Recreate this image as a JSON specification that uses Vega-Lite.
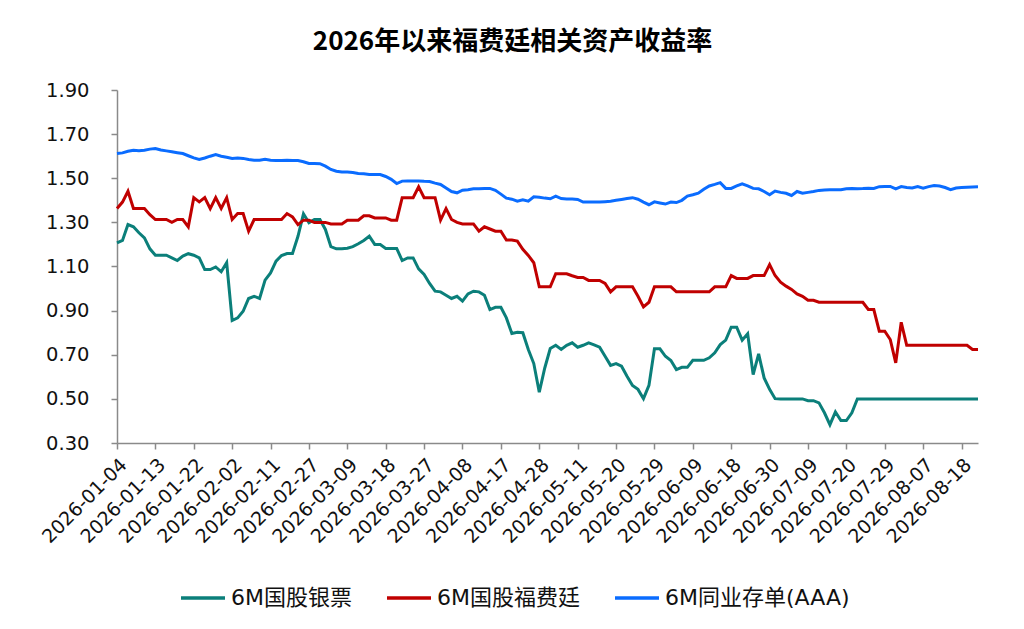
{
  "$schema": "https://vega.github.io/schema/vega-lite/v6.json",
  "autosize": {"type": "none"},
  "width": 861,
  "height": 353,
  "padding": {"left": 117, "top": 90, "right": 46, "bottom": 186},
  "background": "white",
  "config": {
    "view": {"stroke": null},
    "font": "DejaVu Sans, Noto Sans CJK SC"
  },
  "title": {
    "text": "2026年以来福费廷相关资产收益率",
    "font": "Noto Sans CJK SC",
    "fontSize": 26,
    "fontWeight": "bold",
    "color": "#000000",
    "anchor": "middle",
    "frame": "group",
    "dx": -35,
    "offset": 25
  },
  "data": {
    "values": [
      {"d":"2026-01-04","g":1.207,"r":1.363,"b":1.612},
      {"d":"2026-01-05","g":1.218,"r":1.392,"b":1.615},
      {"d":"2026-01-06","g":1.29,"r":1.441,"b":1.622},
      {"d":"2026-01-07","g":1.28,"r":1.363,"b":1.627},
      {"d":"2026-01-08","g":1.253,"r":1.363,"b":1.625},
      {"d":"2026-01-09","g":1.23,"r":1.363,"b":1.627},
      {"d":"2026-01-12","g":1.18,"r":1.335,"b":1.632},
      {"d":"2026-01-13","g":1.151,"r":1.313,"b":1.635},
      {"d":"2026-01-14","g":1.151,"r":1.313,"b":1.628},
      {"d":"2026-01-15","g":1.151,"r":1.313,"b":1.624},
      {"d":"2026-01-16","g":1.139,"r":1.30,"b":1.62},
      {"d":"2026-01-19","g":1.127,"r":1.313,"b":1.616},
      {"d":"2026-01-20","g":1.147,"r":1.313,"b":1.612},
      {"d":"2026-01-21","g":1.158,"r":1.28,"b":1.602},
      {"d":"2026-01-22","g":1.151,"r":1.412,"b":1.592},
      {"d":"2026-01-23","g":1.139,"r":1.393,"b":1.585},
      {"d":"2026-01-26","g":1.086,"r":1.412,"b":1.592},
      {"d":"2026-01-27","g":1.086,"r":1.362,"b":1.60},
      {"d":"2026-01-28","g":1.098,"r":1.412,"b":1.607},
      {"d":"2026-01-29","g":1.076,"r":1.363,"b":1.60},
      {"d":"2026-01-30","g":1.117,"r":1.412,"b":1.595},
      {"d":"2026-02-02","g":0.855,"r":1.313,"b":1.59},
      {"d":"2026-02-03","g":0.867,"r":1.34,"b":1.592},
      {"d":"2026-02-04","g":0.897,"r":1.34,"b":1.59},
      {"d":"2026-02-05","g":0.955,"r":1.26,"b":1.585},
      {"d":"2026-02-06","g":0.965,"r":1.313,"b":1.582},
      {"d":"2026-02-09","g":0.955,"r":1.313,"b":1.582},
      {"d":"2026-02-10","g":1.038,"r":1.313,"b":1.586},
      {"d":"2026-02-11","g":1.071,"r":1.313,"b":1.582},
      {"d":"2026-02-12","g":1.124,"r":1.313,"b":1.58},
      {"d":"2026-02-13","g":1.15,"r":1.313,"b":1.58},
      {"d":"2026-02-14","g":1.159,"r":1.34,"b":1.582},
      {"d":"2026-02-24","g":1.159,"r":1.325,"b":1.58},
      {"d":"2026-02-25","g":1.237,"r":1.29,"b":1.58},
      {"d":"2026-02-26","g":1.339,"r":1.31,"b":1.575},
      {"d":"2026-02-27","g":1.298,"r":1.31,"b":1.567},
      {"d":"2026-02-28","g":1.313,"r":1.30,"b":1.567},
      {"d":"2026-03-02","g":1.313,"r":1.30,"b":1.566},
      {"d":"2026-03-03","g":1.268,"r":1.30,"b":1.555},
      {"d":"2026-03-04","g":1.19,"r":1.293,"b":1.54},
      {"d":"2026-03-05","g":1.18,"r":1.293,"b":1.532},
      {"d":"2026-03-06","g":1.18,"r":1.293,"b":1.528},
      {"d":"2026-03-09","g":1.183,"r":1.31,"b":1.528},
      {"d":"2026-03-10","g":1.19,"r":1.31,"b":1.526},
      {"d":"2026-03-11","g":1.203,"r":1.31,"b":1.522},
      {"d":"2026-03-12","g":1.218,"r":1.33,"b":1.52},
      {"d":"2026-03-13","g":1.237,"r":1.33,"b":1.517},
      {"d":"2026-03-16","g":1.20,"r":1.32,"b":1.517},
      {"d":"2026-03-17","g":1.20,"r":1.32,"b":1.517},
      {"d":"2026-03-18","g":1.182,"r":1.32,"b":1.508},
      {"d":"2026-03-19","g":1.182,"r":1.31,"b":1.495},
      {"d":"2026-03-20","g":1.182,"r":1.31,"b":1.476},
      {"d":"2026-03-23","g":1.127,"r":1.412,"b":1.487},
      {"d":"2026-03-24","g":1.139,"r":1.412,"b":1.488},
      {"d":"2026-03-25","g":1.139,"r":1.412,"b":1.488},
      {"d":"2026-03-26","g":1.089,"r":1.461,"b":1.488},
      {"d":"2026-03-27","g":1.064,"r":1.412,"b":1.486},
      {"d":"2026-03-30","g":1.023,"r":1.412,"b":1.485},
      {"d":"2026-03-31","g":0.988,"r":1.412,"b":1.478},
      {"d":"2026-04-01","g":0.985,"r":1.31,"b":1.472},
      {"d":"2026-04-02","g":0.97,"r":1.362,"b":1.456},
      {"d":"2026-04-03","g":0.955,"r":1.313,"b":1.44},
      {"d":"2026-04-07","g":0.965,"r":1.30,"b":1.434},
      {"d":"2026-04-08","g":0.943,"r":1.293,"b":1.446},
      {"d":"2026-04-09","g":0.976,"r":1.293,"b":1.448},
      {"d":"2026-04-10","g":0.988,"r":1.293,"b":1.452},
      {"d":"2026-04-13","g":0.985,"r":1.26,"b":1.452},
      {"d":"2026-04-14","g":0.97,"r":1.28,"b":1.454},
      {"d":"2026-04-15","g":0.905,"r":1.27,"b":1.454},
      {"d":"2026-04-16","g":0.915,"r":1.26,"b":1.445},
      {"d":"2026-04-17","g":0.915,"r":1.26,"b":1.428},
      {"d":"2026-04-20","g":0.867,"r":1.22,"b":1.41},
      {"d":"2026-04-21","g":0.796,"r":1.22,"b":1.405},
      {"d":"2026-04-22","g":0.802,"r":1.215,"b":1.396},
      {"d":"2026-04-23","g":0.80,"r":1.178,"b":1.402},
      {"d":"2026-04-24","g":0.724,"r":1.15,"b":1.396},
      {"d":"2026-04-27","g":0.66,"r":1.117,"b":1.416},
      {"d":"2026-04-28","g":0.53,"r":1.008,"b":1.414},
      {"d":"2026-04-29","g":0.64,"r":1.008,"b":1.41},
      {"d":"2026-04-30","g":0.728,"r":1.008,"b":1.407},
      {"d":"2026-05-06","g":0.743,"r":1.067,"b":1.419},
      {"d":"2026-05-07","g":0.724,"r":1.067,"b":1.408},
      {"d":"2026-05-08","g":0.743,"r":1.067,"b":1.406},
      {"d":"2026-05-09","g":0.754,"r":1.058,"b":1.406},
      {"d":"2026-05-11","g":0.734,"r":1.05,"b":1.404},
      {"d":"2026-05-12","g":0.743,"r":1.05,"b":1.392},
      {"d":"2026-05-13","g":0.754,"r":1.037,"b":1.392},
      {"d":"2026-05-14","g":0.745,"r":1.037,"b":1.392},
      {"d":"2026-05-15","g":0.734,"r":1.037,"b":1.392},
      {"d":"2026-05-18","g":0.693,"r":1.023,"b":1.394},
      {"d":"2026-05-19","g":0.652,"r":0.985,"b":1.396},
      {"d":"2026-05-20","g":0.66,"r":1.008,"b":1.40},
      {"d":"2026-05-21","g":0.648,"r":1.008,"b":1.404},
      {"d":"2026-05-22","g":0.603,"r":1.008,"b":1.408},
      {"d":"2026-05-25","g":0.561,"r":1.008,"b":1.412},
      {"d":"2026-05-26","g":0.543,"r":0.965,"b":1.405},
      {"d":"2026-05-27","g":0.501,"r":0.917,"b":1.392},
      {"d":"2026-05-28","g":0.561,"r":0.938,"b":1.38},
      {"d":"2026-05-29","g":0.727,"r":1.008,"b":1.393},
      {"d":"2026-06-01","g":0.727,"r":1.008,"b":1.388},
      {"d":"2026-06-02","g":0.693,"r":1.008,"b":1.383},
      {"d":"2026-06-03","g":0.674,"r":1.008,"b":1.392},
      {"d":"2026-06-04","g":0.633,"r":0.985,"b":1.39},
      {"d":"2026-06-05","g":0.643,"r":0.985,"b":1.40},
      {"d":"2026-06-08","g":0.643,"r":0.985,"b":1.419},
      {"d":"2026-06-09","g":0.675,"r":0.985,"b":1.425},
      {"d":"2026-06-10","g":0.675,"r":0.985,"b":1.432},
      {"d":"2026-06-11","g":0.675,"r":0.985,"b":1.45},
      {"d":"2026-06-12","g":0.686,"r":0.985,"b":1.465},
      {"d":"2026-06-15","g":0.709,"r":1.008,"b":1.472},
      {"d":"2026-06-16","g":0.746,"r":1.008,"b":1.48},
      {"d":"2026-06-17","g":0.766,"r":1.008,"b":1.454},
      {"d":"2026-06-18","g":0.825,"r":1.059,"b":1.454},
      {"d":"2026-06-22","g":0.825,"r":1.046,"b":1.465},
      {"d":"2026-06-23","g":0.766,"r":1.046,"b":1.475},
      {"d":"2026-06-24","g":0.795,"r":1.046,"b":1.465},
      {"d":"2026-06-25","g":0.61,"r":1.059,"b":1.454},
      {"d":"2026-06-26","g":0.704,"r":1.059,"b":1.452},
      {"d":"2026-06-29","g":0.595,"r":1.059,"b":1.44},
      {"d":"2026-06-30","g":0.543,"r":1.109,"b":1.425},
      {"d":"2026-07-01","g":0.501,"r":1.059,"b":1.442},
      {"d":"2026-07-02","g":0.50,"r":1.029,"b":1.436},
      {"d":"2026-07-03","g":0.50,"r":1.011,"b":1.432},
      {"d":"2026-07-06","g":0.50,"r":0.996,"b":1.422},
      {"d":"2026-07-07","g":0.50,"r":0.976,"b":1.44},
      {"d":"2026-07-08","g":0.50,"r":0.965,"b":1.432},
      {"d":"2026-07-09","g":0.492,"r":0.947,"b":1.436},
      {"d":"2026-07-10","g":0.492,"r":0.947,"b":1.44},
      {"d":"2026-07-13","g":0.482,"r":0.938,"b":1.445},
      {"d":"2026-07-14","g":0.437,"r":0.938,"b":1.447},
      {"d":"2026-07-15","g":0.383,"r":0.938,"b":1.448},
      {"d":"2026-07-16","g":0.441,"r":0.938,"b":1.448},
      {"d":"2026-07-17","g":0.402,"r":0.938,"b":1.448},
      {"d":"2026-07-20","g":0.402,"r":0.938,"b":1.452},
      {"d":"2026-07-21","g":0.437,"r":0.938,"b":1.454},
      {"d":"2026-07-22","g":0.50,"r":0.938,"b":1.452},
      {"d":"2026-07-23","g":0.50,"r":0.938,"b":1.453},
      {"d":"2026-07-24","g":0.50,"r":0.905,"b":1.455},
      {"d":"2026-07-27","g":0.50,"r":0.905,"b":1.454},
      {"d":"2026-07-28","g":0.50,"r":0.807,"b":1.462},
      {"d":"2026-07-29","g":0.50,"r":0.807,"b":1.463},
      {"d":"2026-07-30","g":0.50,"r":0.769,"b":1.463},
      {"d":"2026-07-31","g":0.50,"r":0.663,"b":1.452},
      {"d":"2026-08-03","g":0.50,"r":0.847,"b":1.462},
      {"d":"2026-08-04","g":0.50,"r":0.743,"b":1.458},
      {"d":"2026-08-05","g":0.50,"r":0.743,"b":1.456},
      {"d":"2026-08-06","g":0.50,"r":0.743,"b":1.462},
      {"d":"2026-08-07","g":0.50,"r":0.743,"b":1.455},
      {"d":"2026-08-10","g":0.50,"r":0.743,"b":1.462},
      {"d":"2026-08-11","g":0.50,"r":0.743,"b":1.467},
      {"d":"2026-08-12","g":0.50,"r":0.743,"b":1.465},
      {"d":"2026-08-13","g":0.50,"r":0.743,"b":1.458},
      {"d":"2026-08-14","g":0.50,"r":0.743,"b":1.448},
      {"d":"2026-08-17","g":0.50,"r":0.743,"b":1.456},
      {"d":"2026-08-18","g":0.50,"r":0.743,"b":1.458},
      {"d":"2026-08-19","g":0.50,"r":0.743,"b":1.459},
      {"d":"2026-08-20","g":0.50,"r":0.724,"b":1.46},
      {"d":"2026-08-21","g":0.50,"r":0.724,"b":1.461}
    ]
  },
  "transform": [
    {"fold": ["g", "r", "b"], "as": ["k", "v"]}
  ],
  "mark": {"type": "line", "strokeWidth": 3, "strokeJoin": "miter", "clip": false},
  "encoding": {
    "x": {
      "field": "d",
      "type": "ordinal",
      "scale": {"type": "point", "padding": 0},
      "axis": {
        "title": null,
        "values": ["2026-01-04","2026-01-13","2026-01-22","2026-02-02","2026-02-11","2026-02-27","2026-03-09","2026-03-18","2026-03-27","2026-04-08","2026-04-17","2026-04-28","2026-05-11","2026-05-20","2026-05-29","2026-06-09","2026-06-18","2026-06-30","2026-07-09","2026-07-20","2026-07-29","2026-08-07","2026-08-18"],
        "labelAngle": -45,
        "labelAlign": "right",
        "labelBaseline": "top",
        "labelFontSize": 19,
        "labelColor": "#111111",
        "labelPadding": 6,
        "labelOverlap": false,
        "domainColor": "#8a8a8a",
        "domainWidth": 1.5,
        "tickColor": "#8a8a8a",
        "tickWidth": 1.5,
        "tickSize": 6,
        "grid": false
      }
    },
    "y": {
      "field": "v",
      "type": "quantitative",
      "scale": {"domain": [0.3, 1.9], "nice": false, "zero": false},
      "axis": {
        "title": null,
        "values": [0.3, 0.5, 0.7, 0.9, 1.1, 1.3, 1.5, 1.7, 1.9],
        "format": ".2f",
        "labelFontSize": 19.5,
        "labelColor": "#111111",
        "labelPadding": 22,
        "domainColor": "#8a8a8a",
        "domainWidth": 1.5,
        "tickColor": "#8a8a8a",
        "tickWidth": 1.5,
        "tickSize": 6,
        "grid": false
      }
    },
    "color": {
      "field": "k",
      "type": "nominal",
      "scale": {"domain": ["g", "r", "b"], "range": ["#0B7F7A", "#C00000", "#0A6CFF"]},
      "legend": {
        "title": null,
        "orient": "none",
        "direction": "horizontal",
        "legendX": 62,
        "legendY": 484,
        "labelExpr": "datum.label == 'g' ? '6M国股银票' : datum.label == 'r' ? '6M国股福费廷' : '6M同业存单(AAA)'",
        "labelFontSize": 22,
        "labelLimit": 400,
        "labelColor": "#111111",
        "labelOffset": 4,
        "symbolType": "stroke",
        "symbolSize": 1936,
        "symbolStrokeWidth": 3.5,
        "columnPadding": 28
      }
    }
  }
}
